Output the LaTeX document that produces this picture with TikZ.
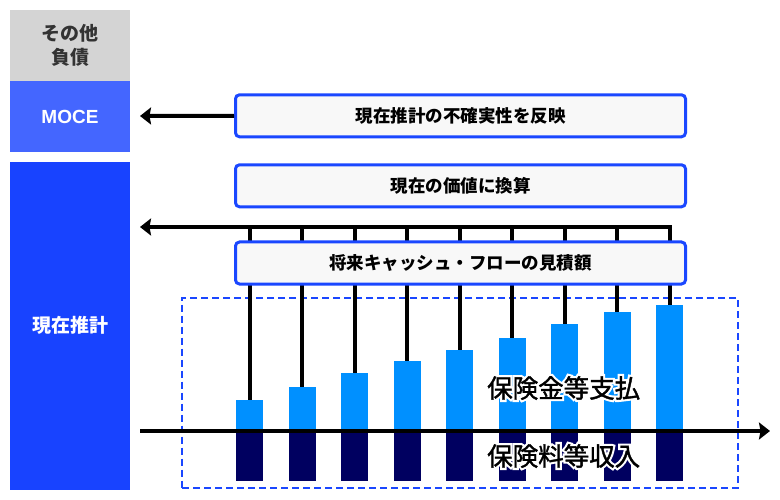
\documentclass[tikz,border=0pt]{standalone}
\usepackage{fontspec}
\setmainfont{Liberation Sans}
\newfontfamily\jp{Noto Sans CJK JP}
\newfontfamily\jpmed[FakeBold=1.5]{Noto Sans CJK JP}
\newfontfamily\jphalo[FakeBold=18]{Noto Sans CJK JP}
\usetikzlibrary{arrows.meta}
\definecolor{graybox}{HTML}{D4D4D4}
\definecolor{grtext}{HTML}{333333}
\definecolor{mocecol}{HTML}{4466FF}
\definecolor{curcol}{HTML}{1843FF}
\definecolor{bdrcol}{HTML}{1A47FF}
\definecolor{boxfill}{HTML}{F8F8F8}
\definecolor{barup}{HTML}{0090FF}
\definecolor{bardn}{HTML}{000060}
\newcommand{\halotext}[1]{{\jphalo\color{white}\rlap{#1}}{\jpmed #1}}
\tikzset{
  leftbox/.style={inner sep=0pt, minimum width=120pt, draw=none},
  pbox/.style={draw=bdrcol, line width=3pt, fill=boxfill, rounded corners=4pt,
    minimum width=450pt, minimum height=42pt, inner sep=0pt,
    font=\jp\bfseries\fontsize{17.5}{20}\selectfont},
  blk/.style={line width=4pt, black},
  arr/.style={blk, -{Stealth[length=11pt,width=17pt,inset=1.5pt]}},
  upbar/.style={fill=barup, draw=none, minimum width=27pt, inner sep=0pt, anchor=south},
  dnbar/.style={fill=bardn, draw=none, minimum width=27pt, minimum height=50pt, inner sep=0pt, anchor=north},
  dashbox/.style={draw=bdrcol, line width=2pt, dash pattern=on 7pt off 4pt, inner sep=0pt,
    minimum width=556pt, minimum height=190pt},
  biglabel/.style={inner sep=0pt, anchor=west, font=\jp\fontsize{25.5}{28}\selectfont}
}
\begin{document}
\begin{tikzpicture}[x=1pt,y=-1pt]
\useasboundingbox (0,0) rectangle (780,500);
% left column
\node[leftbox, fill=graybox, minimum height=71pt, text=grtext,
  font=\jp\bfseries\fontsize{19}{24}\selectfont, align=center] (other) at (70,45.5) {その他\\負債};
\node[leftbox, fill=mocecol, minimum height=71pt, text=white,
  font=\bfseries\fontsize{19}{22}\selectfont] (moce) at (70,116.5) {MOCE};
\node[leftbox, fill=curcol, minimum height=327.5pt, text=white,
  font=\jp\bfseries\fontsize{19}{22}\selectfont] (cur) at (70,325.75) {現在推計};
% dashed region
\node[dashbox] (dz) at (460,392.7) {};
% bars
\foreach \i/\t in {0/400,1/387,2/373,3/361,4/350,5/338,6/324,7/312,8/305}{
  \pgfmathsetmacro{\xc}{249.5+52.5*\i}
  \pgfmathsetmacro{\hh}{431-\t}
  \node[upbar, minimum height=\hh pt] (u\i) at (\xc,431) {};
  \node[dnbar] (d\i) at (\xc,431) {};
  \coordinate (h\i) at (\xc,227);
}
% connectors from bars to the line
\foreach \i in {0,...,7}{
  \draw[blk] (u\i.north) -- (h\i);
}
\coordinate (hleft) at (140,227);
\draw[arr] (u8.north) -- (h8) -- (hleft);
% boxes
\node[pbox] (b1) at (460.5,115.8) {現在推計の不確実性を反映};
\node[pbox] (b2) at (460.5,185.8) {現在の価値に換算};
\node[pbox] (b3) at (460.5,263) {将来キャッシュ・フローの見積額};
\coordinate (mocearrow) at (140,116);
\draw[arr] (b1.west) -- (mocearrow);
% axis
\coordinate (axl) at (140,431);
\coordinate (axr) at (770,431);
\draw[arr] (axl) -- (axr);
% labels
\node[biglabel] (lpay) at (487,388) {\halotext{保険金等支払}};
\node[biglabel] (lrec) at (487,456) {\halotext{保険料等収入}};
\end{tikzpicture}
\end{document}
